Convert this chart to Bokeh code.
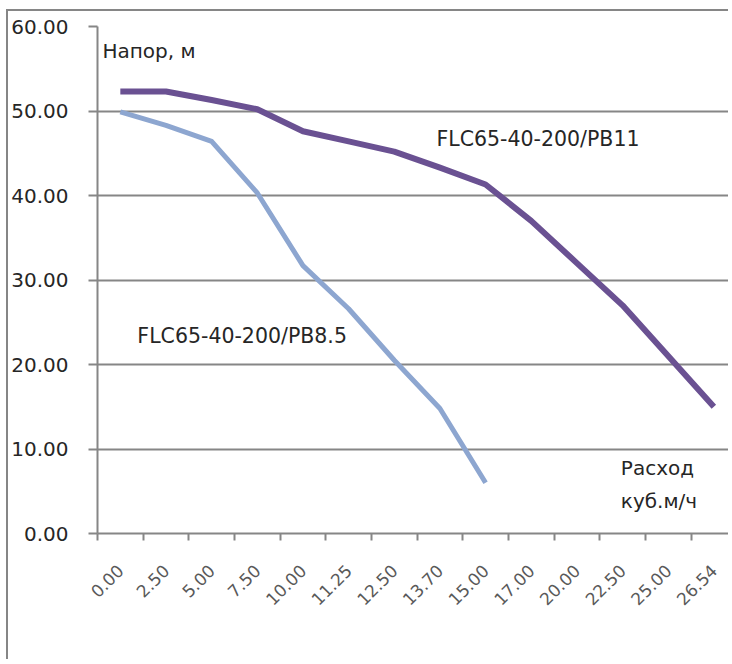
import math
from bokeh.plotting import figure
from bokeh.models import Range1d, FixedTicker, Label, NumeralTickFormatter
from bokeh.embed import file_html
from bokeh.resources import INLINE

# ---- data ----
flow_labels = ["0.00", "2.50", "5.00", "7.50", "10.00", "11.25", "12.50",
               "13.70", "15.00", "17.00", "20.00", "22.50", "25.00", "26.54"]
head_pb11 = [52.3, 52.3, 51.3, 50.2, 47.6, 46.4, 45.2, 43.3, 41.3,
             37.0, 32.0, 27.0, 21.0, 15.0]
head_pb85 = [49.9, 48.3, 46.4, 40.3, 31.7, 26.6, 20.5, 14.8, 6.0]
y_ticks = [0, 10, 20, 30, 40, 50, 60]
series_names = ["FLC65-40-200/PB11", "FLC65-40-200/PB8.5"]
y_title = "Напор,  м"
x_title = ["Расход", "куб.м/ч"]

# ---- layout helpers (page pixel -> data) ----
ORIGIN_X, ORIGIN_Y = 8, 11          # canvas origin on the page
FRAME_L, FRAME_B, FRAME_T, FRAME_R = 95, 533, 26, 730
CAT_W = 45.8
def px_x(X):
    return -0.5 + (X - FRAME_L) / CAT_W
def px_y(Y):
    return (FRAME_B - Y) * 60.0 / (FRAME_B - FRAME_T)

GRID = "#868686"
FONT = "DejaVu Sans"
W = FRAME_R - ORIGIN_X
H = 650

p = figure(width=W, height=H, output_backend="svg", toolbar_location=None,
           x_range=Range1d(-0.5, px_x(FRAME_R)),
           y_range=Range1d(0, 60),
           min_border_left=FRAME_L - ORIGIN_X, min_border_top=FRAME_T - ORIGIN_Y,
           min_border_right=0,
           min_border_bottom=ORIGIN_Y + H - FRAME_B)
p.styles = {"margin-left": "6px", "margin-top": "9px",
            "border-top": "2px solid #868686", "border-left": "2px solid #868686"}
p.outline_line_color = None
p.background_fill_color = "white"
p.border_fill_color = "white"

# y axis
p.yaxis.ticker = FixedTicker(ticks=y_ticks)
p.yaxis.formatter = NumeralTickFormatter(format="0.00")
p.yaxis.axis_line_color = GRID
p.yaxis.axis_line_width = 2
p.yaxis.major_tick_line_color = GRID
p.yaxis.major_tick_line_width = 2
p.yaxis.major_tick_out = 9
p.yaxis.major_tick_in = 0
p.yaxis.minor_tick_line_color = None
p.yaxis.major_label_standoff = 20
p.yaxis.major_label_text_font = FONT
p.yaxis.major_label_text_font_size = "20px"
p.yaxis.major_label_text_color = "#262626"

# x axis
n = len(flow_labels)
p.xaxis.ticker = FixedTicker(ticks=list(range(n)),
                             minor_ticks=[i - 0.5 for i in range(n + 1)])
p.xaxis.major_label_overrides = {i: lab for i, lab in enumerate(flow_labels)}
p.xaxis.major_label_orientation = math.pi / 4
p.xaxis.axis_line_color = GRID
p.xaxis.axis_line_width = 2
p.xaxis.major_tick_line_color = None
p.xaxis.major_tick_out = 0
p.xaxis.major_tick_in = 0
p.xaxis.minor_tick_line_color = GRID
p.xaxis.minor_tick_line_width = 2
p.xaxis.minor_tick_out = 7
p.xaxis.minor_tick_in = 0
p.xaxis.major_label_standoff = 27
p.xaxis.major_label_text_font = FONT
p.xaxis.major_label_text_font_size = "17px"
p.xaxis.major_label_text_color = "#595959"

p.xgrid.grid_line_color = None
p.ygrid.ticker = FixedTicker(ticks=y_ticks)
p.ygrid.grid_line_color = GRID
p.ygrid.grid_line_width = 2

# series
p.line(x=list(range(len(head_pb85))), y=head_pb85, line_width=5,
       line_color="#8DA6D0", line_join="round")
p.line(x=list(range(len(head_pb11))), y=head_pb11, line_width=6,
       line_color="#6A5192", line_join="round")

# texts
def add_text(txt, X, Y, size="20px"):
    p.add_layout(Label(x=px_x(X), y=px_y(Y), text=txt, text_font=FONT,
                       text_font_size=size, text_color="#262626",
                       text_align="left", text_baseline="alphabetic"))

add_text(y_title, 100, 50)
add_text(series_names[0], 435, 138, "20.5px")
add_text(series_names[1], 135, 335, "20.5px")
add_text(x_title[0], 620, 467)
add_text(x_title[1], 620, 500)

open("out.html", "w").write(file_html(p, INLINE))
